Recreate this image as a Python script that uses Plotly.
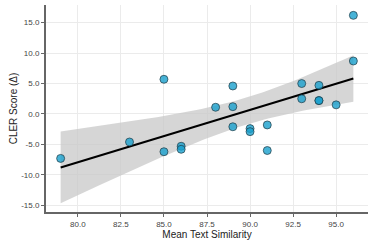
import numpy as np
import plotly.graph_objects as go

# Data
similarity = [79, 83, 85, 85, 86, 86, 88, 89, 89, 89, 90, 90, 91, 91, 93, 93, 94, 94, 94, 95, 96, 96]
cler_delta = [-7.3, -4.6, -6.2, 5.7, -5.3, -5.8, 1.1, 4.6, 1.2, -2.1, -2.4, -2.9, -1.8, -6.0,
              5.0, 2.5, 4.7, 2.2, 2.2, 1.5, 16.2, 8.7]

x_tickvals = [80.0, 82.5, 85.0, 87.5, 90.0, 92.5, 95.0]
x_ticktext = ["80.0", "82.5", "85.0", "87.5", "90.0", "92.5", "95.0"]
y_tickvals = [-15, -10, -5, 0, 5, 10, 15]
y_ticktext = ["-15.0", "-10.0", "-5.0", "0.0", "5.0", "10.0", "15.0"]

# Linear fit with confidence band
x = np.array(similarity, dtype=float)
y = np.array(cler_delta, dtype=float)
n = len(x)
slope, intercept = np.polyfit(x, y, 1)
resid = y - (slope * x + intercept)
s = np.sqrt(np.sum(resid ** 2) / (n - 2))
t_crit = 2.4
xs = np.linspace(x.min(), x.max(), 80)
ys = slope * xs + intercept
se = s * np.sqrt(1 / n + (xs - x.mean()) ** 2 / np.sum((x - x.mean()) ** 2))
upper = ys + t_crit * se
lower = ys - t_crit * se

fig = go.Figure()
fig.add_trace(go.Scatter(
    x=np.concatenate([xs, xs[::-1]]), y=np.concatenate([upper, lower[::-1]]),
    fill="toself", fillcolor="rgba(200,200,200,0.75)", line=dict(width=0),
    hoverinfo="skip", showlegend=False))
fig.add_trace(go.Scatter(x=xs, y=ys, mode="lines", line=dict(color="black", width=2),
                         showlegend=False))
fig.add_trace(go.Scatter(
    x=similarity, y=cler_delta, mode="markers",
    marker=dict(size=8, color="rgba(25,160,205,0.8)", line=dict(color="#1f3a44", width=0.7)),
    showlegend=False))

font_family = "Liberation Sans, Arial, sans-serif"
axis_common = dict(
    showgrid=True, gridcolor="#ebebeb", gridwidth=1, zeroline=False,
    showline=True, linecolor="#666666", linewidth=2,
    ticks="outside", ticklen=3, tickcolor="#666666", automargin=False,
    tickfont=dict(family=font_family, size=8, color="#444444"),
)
fig.update_xaxes(range=[78.15, 96.85], tickvals=x_tickvals, ticktext=x_ticktext,
                 title=dict(text="Mean Text Similarity", standoff=2,
                            font=dict(family=font_family, size=10, color="#222")),
                 **axis_common)
fig.update_yaxes(range=[-16.1, 17.9], tickvals=y_tickvals, ticktext=y_ticktext,
                 title=dict(text="CLER Score (Δ)", standoff=2,
                            font=dict(family=font_family, size=10, color="#222")),
                 **axis_common)
fig.update_layout(
    width=374, height=247,
    margin=dict(l=46, r=6, t=5, b=35, autoexpand=False),
    plot_bgcolor="white", paper_bgcolor="white",
)
fig.write_html("out.html", config={"displayModeBar": False},
               post_script="document.body.style.margin='0';")
